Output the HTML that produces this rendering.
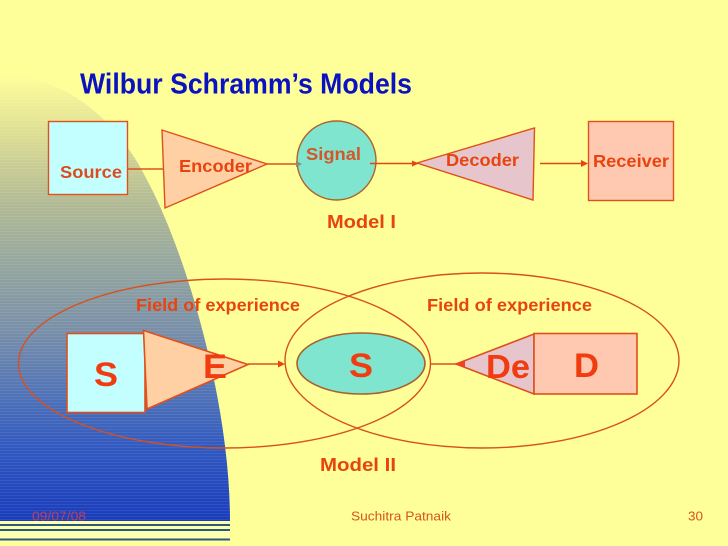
<!DOCTYPE html>
<html><head><meta charset="utf-8"><style>
html,body{margin:0;padding:0;background:#ffff99}
svg{display:block}
text{font-family:"Liberation Sans",Arial,sans-serif;font-weight:bold;fill:#e8440f}
</style></head><body>
<svg width="728" height="546" viewBox="0 0 728 546" xmlns="http://www.w3.org/2000/svg">
<defs>
<linearGradient id="g" gradientUnits="userSpaceOnUse" x1="0" y1="74" x2="0" y2="521">
<stop offset="0" stop-color="#ffff99"/>
<stop offset="0.125" stop-color="#e0e094"/>
<stop offset="0.28" stop-color="#b4bc94"/>
<stop offset="0.416" stop-color="#97a89e"/>
<stop offset="0.57" stop-color="#7a90a8"/>
<stop offset="0.73" stop-color="#4d70b8"/>
<stop offset="0.84" stop-color="#3058c0"/>
<stop offset="1" stop-color="#1a3cbc"/>
</linearGradient>
<pattern id="st" patternUnits="userSpaceOnUse" width="10" height="3">
<rect y="0" width="10" height="1" fill="#ffffff" opacity="0.08"/>
</pattern>
<clipPath id="c"><path d="M0,74 C70,76 120,125 147,180 C185,250 230,400 230,521 H0Z"/></clipPath>
</defs>
<rect width="728" height="546" fill="#ffff99"/>
<g clip-path="url(#c)">
<rect y="70" width="240" height="452" fill="url(#g)"/>
<rect y="70" width="240" height="452" fill="url(#st)"/>
</g>
<rect x="0" y="522" width="230" height="20" fill="#ffffb0"/>
<g fill="#2b5a78">
<rect x="0" y="524" width="230" height="2"/>
<rect x="0" y="529" width="230" height="2"/>
<rect x="0" y="538.5" width="230" height="2"/>
</g>

<text x="80" y="93.5" font-size="29" textLength="332" lengthAdjust="spacingAndGlyphs" style="fill:#0a12c2">Wilbur Schramm’s Models</text>

<!-- Model I -->
<g stroke="#e0501a" stroke-width="1.4">
<rect x="48.5" y="121.5" width="79" height="73" fill="#c4ffff"/>
<line x1="127" y1="169" x2="164" y2="169"/>
<polygon points="162,130 267,164 165,208" fill="#ffd0a4"/>
<line x1="267" y1="164" x2="298" y2="164"/>
<circle cx="336.5" cy="160.5" r="39.5" fill="#80e5cf" stroke="#b0602a"/>
<line x1="370" y1="163.5" x2="414" y2="163.5" stroke="#e8440f"/>
<polygon points="417,163 534.5,128 533,200" fill="#e6c6cc"/>
<line x1="540" y1="163.5" x2="585" y2="163.5" stroke="#e8440f"/>
<rect x="588.5" y="121.5" width="85" height="79" fill="#ffc8b0"/>
</g>
<polygon points="302,164 296,161 296,167" fill="#8a8a70"/>
<polygon points="419,163.5 412,160.5 412,166.5" fill="#e8440f"/>
<polygon points="588,163.5 581,160 581,167" fill="#e8440f"/>

<text x="60" y="178" font-size="17.5" textLength="62" lengthAdjust="spacingAndGlyphs" style="fill:#dc4c20">Source</text>
<text x="179" y="172" font-size="17.5" textLength="73" lengthAdjust="spacingAndGlyphs">Encoder</text>
<text x="306" y="160" font-size="17.5" textLength="55" lengthAdjust="spacingAndGlyphs" style="fill:#d4562a">Signal</text>
<text x="446" y="166" font-size="17.5" textLength="73" lengthAdjust="spacingAndGlyphs">Decoder</text>
<text x="593" y="167" font-size="17.5" textLength="76" lengthAdjust="spacingAndGlyphs">Receiver</text>
<text x="327" y="228" font-size="18" textLength="69" lengthAdjust="spacingAndGlyphs">Model I</text>

<!-- Model II -->
<g fill="none" stroke="#d8501c" stroke-width="1.4">
<ellipse cx="224.5" cy="363.5" rx="206" ry="84.5"/>
<ellipse cx="482" cy="360.5" rx="197" ry="87.5"/>
</g>
<g stroke="#e0501a" stroke-width="1.6">
<rect x="67" y="333.5" width="78" height="79" fill="#c4ffff"/>
<polygon points="143.5,330.5 248,364.5 147,409" fill="#ffd0a4"/>
<line x1="248" y1="364" x2="282" y2="364" stroke-width="1.4"/>
<ellipse cx="361" cy="363.5" rx="64" ry="30.5" fill="#80e5cf" stroke="#a8602c"/>
<line x1="431" y1="364" x2="457" y2="364" stroke-width="1.4"/>
<polygon points="456,364 534,334 534,394" fill="#e6c6cc"/>
<rect x="534" y="333.5" width="103" height="60.5" fill="#ffc8b0"/>
</g>
<polygon points="285,364 278,360.5 278,367.5" fill="#e8440f"/>
<polygon points="455,364 465,360.5 465,367.5" fill="#f0402a"/>

<text x="136" y="311" font-size="17.5" textLength="164" lengthAdjust="spacingAndGlyphs">Field of experience</text>
<text x="427" y="311" font-size="17.5" textLength="165" lengthAdjust="spacingAndGlyphs">Field of experience</text>
<text x="94" y="386" font-size="34" textLength="24" lengthAdjust="spacingAndGlyphs" style="fill:#f03c10">S</text>
<text x="203" y="378" font-size="34" textLength="24" lengthAdjust="spacingAndGlyphs" style="fill:#f03c10">E</text>
<text x="349" y="377" font-size="34" textLength="24" lengthAdjust="spacingAndGlyphs" style="fill:#f03c10">S</text>
<text x="486" y="378" font-size="33" textLength="44" lengthAdjust="spacingAndGlyphs" style="fill:#f03c10">De</text>
<text x="574" y="377" font-size="34" textLength="25" lengthAdjust="spacingAndGlyphs" style="fill:#f03c10">D</text>
<text x="320" y="471" font-size="18" textLength="76" lengthAdjust="spacingAndGlyphs">Model II</text>

<text x="32" y="520.5" font-size="13" textLength="54" lengthAdjust="spacingAndGlyphs" style="font-weight:normal;fill:#b8405e">09/07/08</text>
<text x="351" y="520.5" font-size="13" textLength="100" lengthAdjust="spacingAndGlyphs" style="font-weight:normal;fill:#d8541c">Suchitra Patnaik</text>
<text x="688" y="520.5" font-size="13" textLength="15" lengthAdjust="spacingAndGlyphs" style="font-weight:normal;fill:#d8541c">30</text>
</svg>
</body></html>
